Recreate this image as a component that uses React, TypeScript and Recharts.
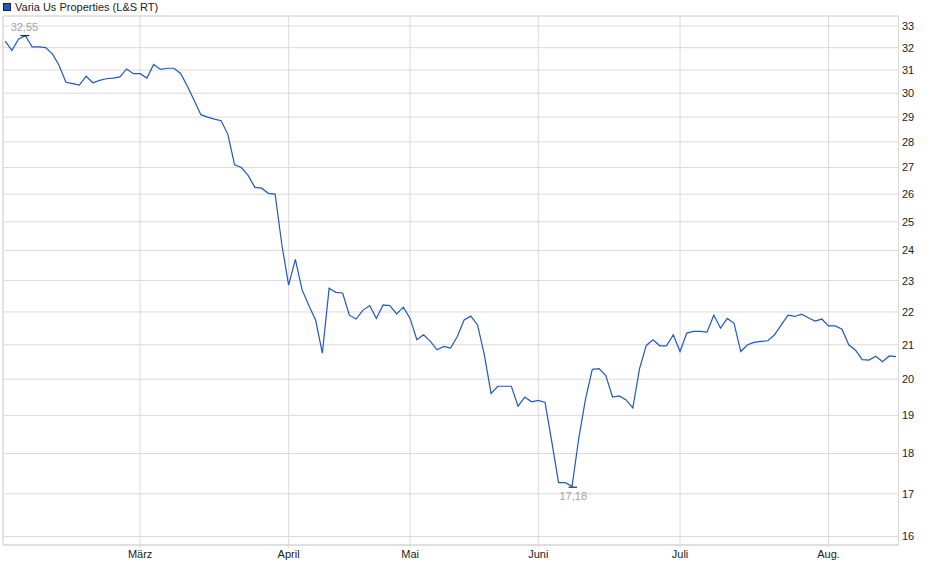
import React from 'react';
import { LineChart, Line, XAxis, YAxis, CartesianGrid, ReferenceArea } from 'recharts';

const seriesName = 'Varia Us Properties (L&S RT)';

// daily closes, trading day 1..133
const closes: number[] = [
  32.30, 31.88, 32.40, 32.55, 32.04, 32.04, 32.00, 31.72, 31.20, 30.47,
  30.41, 30.35, 30.73, 30.45, 30.55, 30.62, 30.65, 30.70, 31.05, 30.84,
  30.84, 30.65, 31.25, 31.03, 31.08, 31.08, 30.85, 30.30, 29.70, 29.10,
  29.00, 28.92, 28.85, 28.30, 27.10, 27.00, 26.70, 26.25, 26.22, 26.03,
  26.00, 24.20, 22.85, 23.70, 22.70, 22.20, 21.75, 20.75, 22.75, 22.62,
  22.60, 21.90, 21.78, 22.05, 22.20, 21.80, 22.22, 22.20, 21.94, 22.15,
  21.80, 21.15, 21.30, 21.10, 20.85, 20.95, 20.90, 21.25, 21.75, 21.87,
  21.60, 20.70, 19.60, 19.80, 19.80, 19.80, 19.25, 19.50, 19.37, 19.41,
  19.35, 18.30, 17.27, 17.27, 17.18, 18.40, 19.45, 20.28, 20.30, 20.10,
  19.50, 19.53, 19.42, 19.20, 20.30, 20.98, 21.15, 20.97, 20.97, 21.30,
  20.80, 21.35, 21.40, 21.40, 21.38, 21.90, 21.50, 21.80, 21.65, 20.80,
  21.00, 21.07, 21.10, 21.12, 21.30, 21.60, 21.90, 21.86, 21.93, 21.82,
  21.72, 21.78, 21.57, 21.57, 21.47, 21.00, 20.84, 20.56, 20.55, 20.66,
  20.50, 20.67, 20.65,
];

// first trading day of each month (day index) and its label
const monthTickDays: number[] = [21, 43, 61, 80, 101, 123];
const monthLabels: string[] = ['März', 'April', 'Mai', 'Juni', 'Juli', 'Aug.'];

const priceTicks: number[] = [16, 17, 18, 19, 20, 21, 22, 23, 24, 25, 26, 27, 28, 29, 30, 31, 32, 33];
const priceDomain: [number, number] = [15.81, 33.47];
const dayDomain: [number, number] = [0.68, 133.37];

const data = closes.map((close, k) => ({ day: k + 1, close }));

const maxVal = Math.max(...closes);
const minVal = Math.min(...closes);
const maxIdx = closes.indexOf(maxVal);
const minIdx = closes.indexOf(minVal);
const fmt = (v: number) => v.toFixed(2).replace('.', ',');

const FONT = '"Liberation Sans", Arial, sans-serif';
const GRID = '#dadada';
const LINE = '#1f58c3';

const ExtremeDot = (props: any) => {
  const { cx, cy, index } = props;
  if (index === maxIdx) {
    return (
      <g key={`d${index}`}>
        <line x1={cx - 5} x2={cx + 4} y1={cy} y2={cy} stroke="#000" strokeWidth={1} />
        <text x={cx - 1} y={cy - 4.5} textAnchor="middle" fontSize={11} fontFamily={FONT} fill="#a3a3a3">
          {fmt(maxVal)}
        </text>
      </g>
    );
  }
  if (index === minIdx) {
    return (
      <g key={`d${index}`}>
        <line x1={cx - 3.5} x2={cx + 5} y1={cy + 0.8} y2={cy + 0.8} stroke="#000" strokeWidth={1} />
        <text x={cx + 1.2} y={cy + 14} textAnchor="middle" fontSize={11} fontFamily={FONT} fill="#a3a3a3">
          {fmt(minVal)}
        </text>
      </g>
    );
  }
  return <g key={`d${index}`} />;
};

export default function App() {
  return (
    <div style={{ position: 'absolute', left: 0, top: 0, width: 940, height: 579, background: '#fff', fontFamily: FONT }}>
      <div style={{ position: 'absolute', left: 3, top: 0, height: 13, display: 'flex', alignItems: 'center', fontSize: 11, color: '#222', zIndex: 2 }}>
        <span style={{ display: 'inline-block', width: 6, height: 6, background: LINE, border: '1px solid #222', marginRight: 4 }} />
        <span>{seriesName}</span>
      </div>
      <LineChart width={940} height={579} data={data} margin={{ top: 16, right: 0, left: 3, bottom: 4 }}>
        <CartesianGrid stroke={GRID} strokeWidth={1} />
        <ReferenceArea
          x1={dayDomain[0]}
          x2={dayDomain[1]}
          y1={priceDomain[0]}
          y2={priceDomain[1]}
          fill="none"
          fillOpacity={0}
          stroke={GRID}
          strokeWidth={1}
          ifOverflow="visible"
        />
        <XAxis
          dataKey="day"
          type="number"
          domain={dayDomain}
          allowDataOverflow
          ticks={monthTickDays}
          interval={0}
          tickFormatter={(d: number) => monthLabels[monthTickDays.indexOf(d)]}
          tickSize={3}
          tickMargin={2.5}
          tickLine={{ stroke: GRID }}
          axisLine={{ stroke: GRID }}
          tick={{ fill: '#222', fontSize: 11, fontFamily: FONT }}
          height={30}
        />
        <YAxis
          orientation="right"
          type="number"
          scale="log"
          domain={priceDomain}
          allowDataOverflow
          ticks={priceTicks}
          interval={0}
          tickSize={0}
          tickMargin={3.5}
          tickLine={false}
          axisLine={{ stroke: GRID }}
          tick={{ fill: '#222', fontSize: 11, fontFamily: FONT }}
          width={41.5}
        />
        <Line
          type="linear"
          dataKey="close"
          stroke={LINE}
          strokeWidth={1.2}
          dot={ExtremeDot}
          activeDot={false}
          isAnimationActive={false}
        />
      </LineChart>
    </div>
  );
}
